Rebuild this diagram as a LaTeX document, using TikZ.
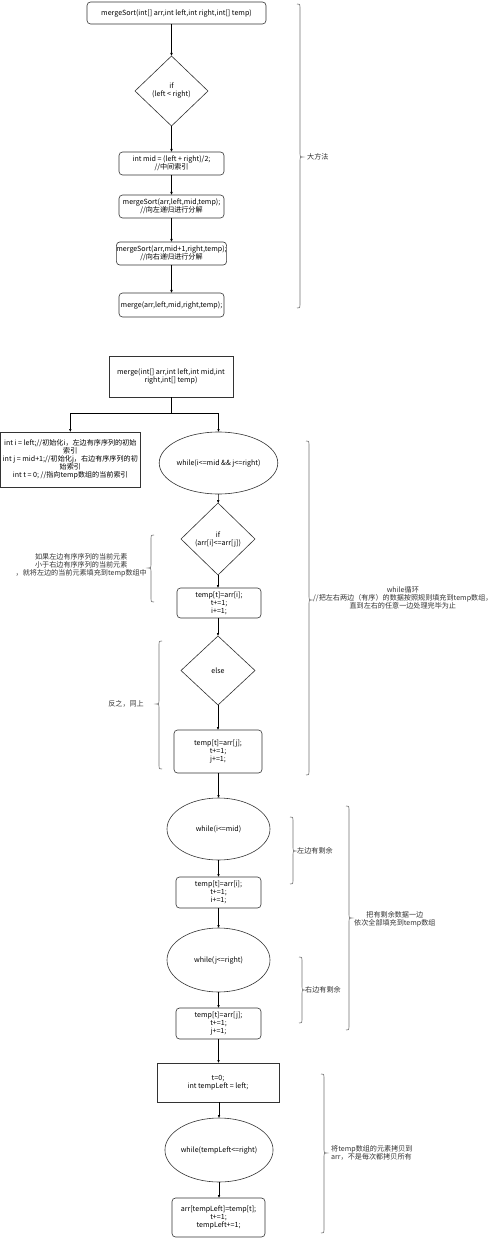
\documentclass[tikz,border=0pt]{standalone}
\usepackage{fontspec}
\setmainfont{Noto Sans CJK SC}
\usetikzlibrary{shapes.geometric,arrows.meta}
\newcommand\BraceR[4]{%
  \draw[brc] (#1-3,#2) .. controls (#1,#2) .. (#1,#2+3) -- (#1,#4-3) .. controls (#1,#4) .. (#1+3,#4)
    .. controls (#1,#4) .. (#1,#4+3) -- (#1,#3-3) .. controls (#1,#3) .. (#1-3,#3);}
\newcommand\BraceL[4]{%
  \draw[brc] (#1+3,#2) .. controls (#1,#2) .. (#1,#2+3) -- (#1,#4-3) .. controls (#1,#4) .. (#1-3,#4)
    .. controls (#1,#4) .. (#1,#4+3) -- (#1,#3-3) .. controls (#1,#3) .. (#1+3,#3);}
\begin{document}
\begin{tikzpicture}[x=1pt,y=-1pt,
  font=\fontsize{7.1}{8}\selectfont,
  base/.style={draw=black!80, line width=0.6pt, align=center, inner sep=0pt, outer sep=0pt},
  rbox/.style={base, rectangle, rounded corners=3.5pt},
  sbox/.style={base, rectangle},
  dia/.style={base, diamond},
  ell/.style={base, ellipse},
  arr/.style={draw=black, line width=0.5pt, -{Latex[length=3pt,width=2.6pt]}},
  ln/.style={draw=black, line width=0.5pt},
  brc/.style={draw=black!55, line width=0.6pt},
  lab/.style={text=black!80, align=center, inner sep=0pt}]
\path[use as bounding box, fill=white] (0,0) rectangle (500,1238);

% ---- part 1
\node[rbox, minimum width=179pt, minimum height=22pt] (top) at (176.5,13) {mergeSort(int[] arr,int left,int right,int[] temp)};
\node[dia, minimum width=73pt, minimum height=70pt] (d1) at (171.5,91) {if\\(left \textless{} right)};
\node[rbox, minimum width=105pt, minimum height=23pt] (mid) at (171.5,163.5) {int mid = (left + right)/2;\\//中间索引};
\node[rbox, minimum width=105pt, minimum height=23pt] (ms1) at (171.5,206.5) {mergeSort(arr,left,mid,temp);\\//向左递归进行分解};
\node[rbox, minimum width=105pt, minimum height=23pt] (ms2) at (171.5,253.5) {mergeSort(arr,mid+1,right,temp);\\//向右递归进行分解};
\node[rbox, minimum width=105pt, minimum height=24pt] (mg) at (171.5,305) {merge(arr,left,mid,right,temp);};

\draw[arr] (d1.north |- top.south) -- (d1.north);
\draw[arr] (d1) -- (mid);
\draw[arr] (mid) -- (ms1);
\draw[arr] (ms1) -- (ms2);
\draw[arr] (ms2) -- (mg);

\BraceR{300}{4}{308}{157}
\node[lab, anchor=west] (l1) at (307,157) {大方法};

% ---- part 2
\node[sbox, minimum width=124pt, minimum height=41pt] (mbox) at (171,376.5) {merge(int[] arr,int left,int mid,int\\right,int[] temp)};
\node[sbox, minimum width=140pt, minimum height=55pt] (init) at (70.3,459.5) {int i = left;//初始化i，左边有序序列的初始\\索引\\int j = mid+1;//初始化j，右边有序序列的初\\始索引\\int t = 0; //指向temp数组的当前索引};
\node[ell, minimum width=103pt, minimum height=62pt] (e1) at (218.5,463) {while(i\textless=mid \&\& j\textless=right)};
\node[dia, minimum width=74pt, minimum height=72pt] (d2) at (218,539) {if\\(arr[i]\textless=arr[j])};
\node[rbox, minimum width=84pt, minimum height=30pt] (b1) at (219,603) {temp[t]=arr[i];\\t+=1;\\i+=1;};
\node[dia, minimum width=74pt, minimum height=69pt] (d3) at (218,670.5) {else};
\node[rbox, minimum width=88pt, minimum height=43pt] (b2) at (218,751.5) {temp[t]=arr[j];\\t+=1;\\j+=1;};
\node[ell, minimum width=103pt, minimum height=62pt] (e2) at (218.5,829) {while(i\textless=mid)};
\node[rbox, minimum width=85pt, minimum height=31pt] (b3) at (218.5,892.5) {temp[t]=arr[i];\\t+=1;\\i+=1;};
\node[ell, minimum width=103pt, minimum height=64pt] (e3) at (218.5,960) {while(j\textless=right)};
\node[rbox, minimum width=85pt, minimum height=31pt] (b4) at (218.5,1023.5) {temp[t]=arr[j];\\t+=1;\\j+=1;};
\node[sbox, minimum width=122pt, minimum height=39pt] (b5) at (218,1082.5) {t=0;\\int tempLeft = left;};
\node[ell, minimum width=104pt, minimum height=64pt] (e4) at (219,1150) {while(tempLeft\textless=right)};
\node[rbox, minimum width=93pt, minimum height=39pt] (b6) at (218.5,1217.5) {arr[tempLeft]=temp[t];\\t+=1;\\tempLeft+=1;};

\coordinate (sp) at (171,413);
\draw[ln] (mbox) -- (sp);
\draw[arr] (sp) -| (init);
\draw[arr] (sp) -| (e1);
\draw[arr] (e1) -- (d2);
\draw[arr] (d2) -- (b1.north -| d2.south);
\draw[arr] (b1.south -| d3.north) -- (d3);
\draw[arr] (d3) -- (b2.north -| d3.south);
\draw[arr] (b2.south -| e2.north) -- (e2);
\draw[arr] (e2) -- (b3);
\draw[arr] (b3) -- (e3);
\draw[arr] (e3) -- (b4);
\draw[arr] (b4) -- (b5.north -| b4.south);
\draw[arr] (b5.south -| e4.north) -- (e4);
\draw[arr] (e4) -- (b6.north -| e4.south);

% braces and notes
\BraceR{309}{441}{775}{600}
\node[lab, anchor=west] (l2) at (313,598) {while循环\\//把左右两边（有序）的数据按照规则填充到temp数组，\\直到左右的任意一边处理完毕为止};
\BraceL{151}{535}{602}{568}
\node[lab, anchor=east] (l3) at (147,565) {如果左边有序序列的当前元素\\小于右边有序序列的当前元素\\，就将左边的当前元素填充到temp数组中};
\BraceL{159}{641}{769}{704}
\node[lab, anchor=east] (l4) at (144,704) {反之，同上};
\BraceR{293}{817}{884}{851}
\node[lab, anchor=west] (l5) at (297,851) {左边有剩余};
\BraceR{302}{957}{1023}{990}
\node[lab, anchor=west] (l6) at (305,990) {右边有剩余};
\BraceR{349}{806}{1030}{918}
\node[lab, anchor=west] (l7) at (354,919) {把有剩余数据一边\\依次全部填充到temp数组};
\BraceR{324}{1074}{1233}{1153}
\node[lab, anchor=west, align=left] (l8) at (331,1153) {将temp数组的元素拷贝到\\arr，不是每次都拷贝所有};
\end{tikzpicture}
\end{document}
